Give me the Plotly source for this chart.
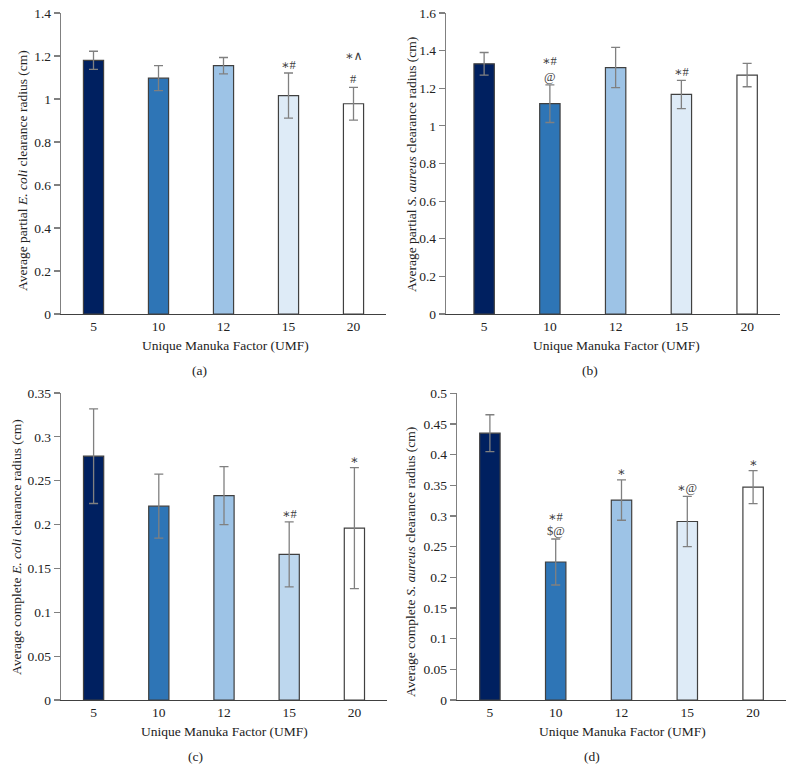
import plotly.graph_objects as go

categories = ["5", "10", "12", "15", "20"]

# Panel (a): partial E. coli
a_vals = [1.18, 1.097, 1.155, 1.016, 0.978]
a_err = [0.042, 0.058, 0.038, 0.105, 0.076]
a_marks = [("15", "∗#", 0), ("20", "#", 0), ("20", "∗∧", 1.7)]

# Panel (b): partial S. aureus
b_vals = [1.33, 1.118, 1.31, 1.167, 1.27]
b_err = [0.06, 0.10, 0.107, 0.075, 0.062]
b_marks = [("10", "@", 0), ("10", "∗#", 1.1), ("15", "∗#", 0)]

# Panel (c): complete E. coli
c_vals = [0.278, 0.221, 0.233, 0.166, 0.196]
c_err = [0.054, 0.0365, 0.033, 0.037, 0.069]
c_marks = [("15", "∗#", 0), ("20", "∗", 0)]

# Panel (d): complete S. aureus
d_vals = [0.435, 0.225, 0.326, 0.291, 0.347]
d_err = [0.030, 0.0375, 0.033, 0.041, 0.027]
d_marks = [("10", "$@", 0), ("10", "∗#", 1.0), ("12", "∗", 0), ("15", "∗@", 0), ("20", "∗", 0)]

colors_std = ["#002060", "#2E75B6", "#9DC3E6", "#DEEBF7", "#FFFFFF"]
colors_c = ["#002060", "#2E75B6", "#9DC3E6", "#BDD7EE", "#FFFFFF"]

W, H = 794, 782
FONT = "Liberation Serif, Times New Roman, DejaVu Serif, serif"


def px(X):
    return X / W


def py(Y):
    return 1 - Y / H


panels = [
    dict(vals=a_vals, err=a_err, marks=a_marks, colors=colors_std,
         xd=(61, 386), yd=(13, 314), ymax=1.4, dtick=0.2, xr=[-0.5, 4.5],
         ytitle="Average partial <i>E. coli</i> clearance radius (cm)",
         ytpos=(22, 171), xtpos=(226, 345), lab="(a)", labpos=(199, 370)),
    dict(vals=b_vals, err=b_err, marks=b_marks, colors=colors_std,
         xd=(446, 780), yd=(13, 314), ymax=1.6, dtick=0.2, xr=[-0.58, 4.5],
         ytitle="Average partial <i>S. aureus</i> clearance radius (cm)",
         ytpos=(411, 165), xtpos=(616, 345), lab="(b)", labpos=(590, 370)),
    dict(vals=c_vals, err=c_err, marks=c_marks, colors=colors_c,
         xd=(61, 387), yd=(393, 700), ymax=0.35, dtick=0.05, xr=[-0.5, 4.5],
         ytitle="Average complete <i>E. coli</i> clearance radius (cm)",
         ytpos=(16, 547), xtpos=(224, 731), lab="(c)", labpos=(195, 756)),
    dict(vals=d_vals, err=d_err, marks=d_marks, colors=colors_std,
         xd=(457, 786), yd=(393.3, 700), ymax=0.5, dtick=0.05, xr=[-0.5, 4.5],
         ytitle="Average complete <i>S. aureus</i> clearance radius (cm)",
         ytpos=(410, 562), xtpos=(622, 731), lab="(d)", labpos=(592, 756)),
]

fig = go.Figure()
layout = dict(
    width=W, height=H, margin=dict(l=0, r=0, t=0, b=0, autoexpand=False),
    paper_bgcolor="white", plot_bgcolor="white", showlegend=False,
    font=dict(family=FONT, size=12, color="#222222"),
)
annotations = []

for i, p in enumerate(panels):
    n = "" if i == 0 else str(i + 1)
    xa, ya = "x" + n, "y" + n
    fig.add_trace(go.Bar(
        x=categories, y=p["vals"], xaxis=xa, yaxis=ya, width=0.31,
        marker=dict(color=p["colors"], line=dict(color="#404040", width=1.2)),
        error_y=dict(type="data", array=p["err"], visible=True,
                     color="#808080", thickness=1.3, width=4.5),
    ))
    layout["xaxis" + n] = dict(
        domain=[px(p["xd"][0]), px(p["xd"][1])], anchor=ya, type="category",
        range=p["xr"], showline=True, linecolor="#404040", linewidth=1.2,
        ticks="", showgrid=False, zeroline=False, automargin=False,
        tickfont=dict(family=FONT, size=13.5, color="#222222"),
    )
    layout["yaxis" + n] = dict(
        domain=[py(p["yd"][1]), py(p["yd"][0])], anchor=xa,
        range=[0, p["ymax"]], dtick=p["dtick"], tick0=0,
        showline=True, linecolor="#808080", linewidth=1.3,
        ticks="outside", ticklen=6, tickcolor="#808080", tickwidth=1.2,
        showgrid=False, zeroline=False, automargin=False,
        tickfont=dict(family=FONT, size=13.5, color="#222222"),
    )
    # y-axis title
    annotations.append(dict(
        text=p["ytitle"], xref="paper", yref="paper",
        x=px(p["ytpos"][0]), y=py(p["ytpos"][1]), textangle=-90,
        showarrow=False, xanchor="center", yanchor="middle",
        font=dict(family=FONT, size=13.5, color="#222222"),
    ))
    # x-axis title
    annotations.append(dict(
        text="Unique Manuka Factor (UMF)", xref="paper", yref="paper",
        x=px(p["xtpos"][0]), y=py(p["xtpos"][1]),
        showarrow=False, xanchor="center", yanchor="middle",
        font=dict(family=FONT, size=13.5, color="#222222"),
    ))
    # panel label
    annotations.append(dict(
        text=p["lab"], xref="paper", yref="paper",
        x=px(p["labpos"][0]), y=py(p["labpos"][1]),
        showarrow=False, xanchor="center", yanchor="middle",
        font=dict(family=FONT, size=13.5, color="#222222"),
    ))
    # significance marks (category axes use the category index)
    for cat, txt, level in p["marks"]:
        k = categories.index(cat)
        annotations.append(dict(
            text=txt, xref=xa, yref=ya, x=k,
            y=p["vals"][k] + p["err"][k],
            yshift=8 + 14 * level, showarrow=False,
            xanchor="center", yanchor="middle",
            font=dict(family=FONT, size=12.5, color="#404040"),
        ))

layout["annotations"] = annotations
fig.update_layout(**layout)

# remove the browser's default page margin so the figure sits at the page origin
page_css = ("document.body.style.margin='0';document.body.style.padding='0';"
            "document.documentElement.style.overflow='hidden';")
fig.write_html("out.html", post_script=page_css,
               config={"displayModeBar": False, "staticPlot": True})
